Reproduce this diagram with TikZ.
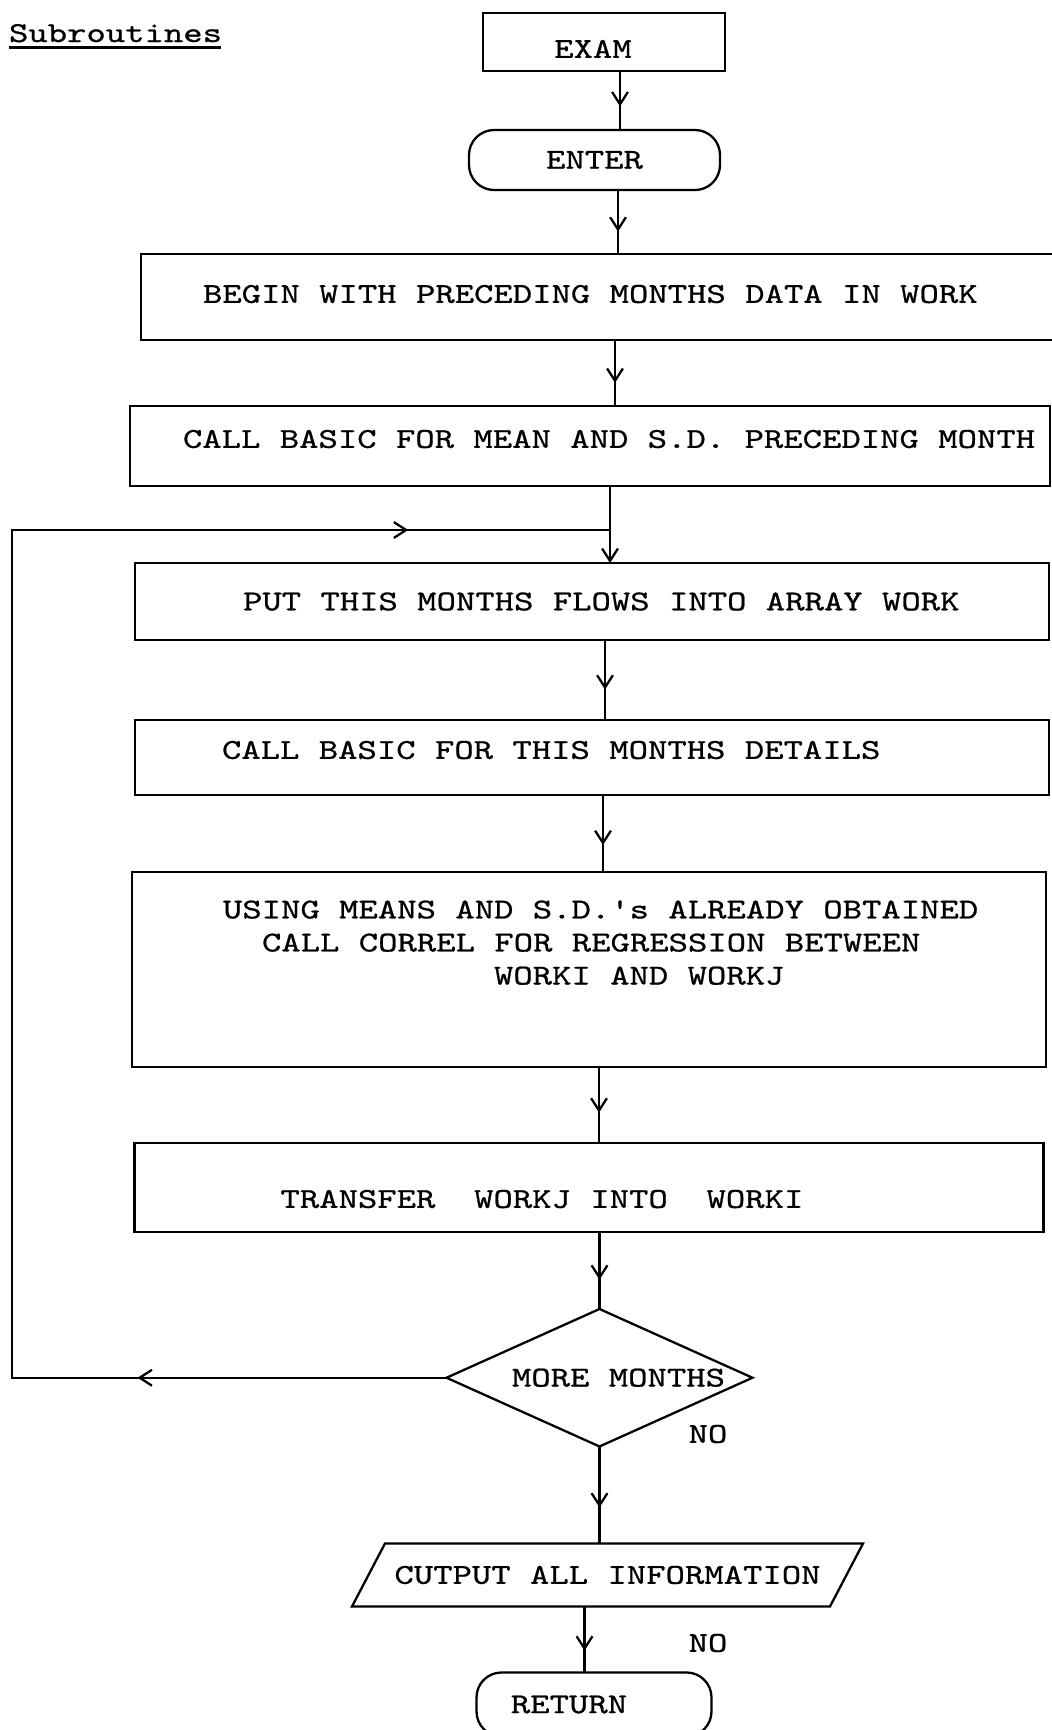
\documentclass[tikz,border=0pt]{standalone}
\usepackage{fontspec}
\newfontfamily\typer{lmmono10-regular}[Extension=.otf, FakeStretch=1.28, FakeBold=0.8, Ligatures=TeXOff]
\newcommand\typeface{\typer\fontsize{16.4pt}{18.8pt}\selectfont}
\newcommand\fixedspaces{\spaceskip=11.02pt\relax\xspaceskip=11.02pt\relax}
\usepackage{tikz}
\usetikzlibrary{arrows.meta,positioning,shapes.geometric,decorations.markings}

\begin{document}
\begin{tikzpicture}[
    every node/.style={outer sep=0pt, font=\typeface},
    line width=1.3pt,
    >={Straight Barb[length=7pt,width=9pt]},
    tbox/.style={
      rectangle, draw, inner xsep=0pt, align=left, text width=#1,
      execute at begin node=\fixedspaces
    },
    termbox/.style={
      rectangle, draw, rounded corners=0.5cm, align=center
    },
    decbox/.style={
      diamond, draw, aspect=2.2, inner sep=1pt,
      minimum width=6.12cm, minimum height=2.74cm
    },
    iobox/.style={
      rectangle, minimum width=9.56cm, minimum height=1.26cm
    },
    lift/.style={text height=#1, text depth=0pt},
    arr/.style={postaction={decorate},
      decoration={markings, mark=at position #1 with {\arrow{>}}}},
    arr/.default=0.65,
    looparr/.style={postaction={decorate},
      decoration={markings,
        mark=at position 6.18cm with {\arrow{>}},
        mark=at position 33.57cm with {\arrow{>}}}}
  ]
    \path[use as bounding box] (0,0) rectangle (21.04,-34.6);
    \clip (0,0) rectangle (21.04,-34.6);

    % Heading
    \node[anchor=base west, inner sep=0pt] (title) at (0.18,-0.84)
      {\rlap{Subroutines}\rule[-0.13cm]{4.24cm}{0.05cm}};

    % Entry
    \node[draw, minimum width=4.84cm, minimum height=1.16cm, lift=0.634cm] (exam) at (12.08,-0.84) {EXAM\hspace*{0.44cm}};
    \node[termbox, minimum width=5.02cm, minimum height=1.2cm, below=1.18cm of exam, xshift=-0.19cm] (enter) {ENTER};

    % Processing boxes
    \node[tbox=18.42cm, minimum height=1.72cm, lift=0.234cm, below=1.28cm of enter, xshift=0.14cm] (begin)
      {\hspace*{1.24cm}BEGIN WITH PRECEDING MONTHS DATA IN WORK};
    \node[tbox=18.4cm, minimum height=1.6cm, lift=0.074cm, below=1.32cm of begin, xshift=-0.23cm] (call)
      {\hspace*{1.06cm}CALL BASIC FOR MEAN AND S.D. PRECEDING MONTH};
    \node[tbox=18.28cm, minimum height=1.54cm, below=1.54cm of call, xshift=0.04cm] (put)
      {\hspace*{2.16cm}PUT THIS MONTHS FLOWS INTO ARRAY WORK};
    \node[tbox=18.28cm, minimum height=1.5cm, lift=0.054cm, below=1.6cm of put] (callthis)
      {\hspace*{1.74cm}CALL BASIC FOR THIS MONTHS DETAILS};
    \node[tbox=18.28cm, minimum height=3.9cm, below=1.54cm of callthis, xshift=-0.06cm] (using)
      {\hspace*{1.82cm}USING MEANS AND S.D.'s ALREADY OBTAINED\\
       \hspace*{2.6cm}CALL CORREL FOR REGRESSION BETWEEN\\
       \hspace*{7.24cm}WORKI AND WORKJ\\[0.42cm]
       \mbox{}};
    \node[tbox=18.18cm, minimum height=1.78cm, lift=0.814cm, below=1.52cm of using] (transfer)
      {\hspace*{2.92cm}TRANSFER\ \ WORKJ INTO\ \ WORKI};

    % Decision and exit
    \node[decbox, below=1.54cm of transfer, xshift=0.21cm] (more) {\hspace*{0.76cm}MORE MONTHS};
    \node[iobox, below=1.94cm of more, xshift=0.16cm] (output) {CUTPUT ALL INFORMATION};
    \draw ([xshift=0.33cm]output.north west) -- ([xshift=0.33cm]output.north east)
      -- ([xshift=-0.33cm]output.south east) -- ([xshift=-0.33cm]output.south west) -- cycle;
    \node[termbox, minimum width=4.7cm, minimum height=1.28cm, below=1.32cm of output, xshift=-0.27cm] (ret) {RETURN\hspace*{1.0cm}};

    \node (no1) at (14.16,-28.68) {NO};
    \node (no2) at (14.16,-32.86) {NO};

    % Connectors
    \draw[arr=0.6] ([xshift=0.32cm]exam.south) -- ([xshift=0.32cm]exam.south |- enter.north);
    \draw[arr] ([xshift=0.47cm]enter.south) -- ([xshift=0.47cm]enter.south |- begin.north);
    \draw[arr] ([xshift=0.27cm]begin.south) -- ([xshift=0.27cm]begin.south |- call.north);
    \draw[->] ([xshift=0.4cm]call.south) -- ([xshift=0.4cm]call.south |- put.north);
    \draw[arr=0.62] ([xshift=0.26cm]put.south) -- ([xshift=0.26cm]put.south |- callthis.north);
    \draw[arr] ([xshift=0.22cm]callthis.south) -- ([xshift=0.22cm]callthis.south |- using.north);
    \draw[arr=0.6] ([xshift=0.2cm]using.south) -- ([xshift=0.2cm]using.south |- transfer.north);
    \draw[arr=0.62] (transfer.south -| more.north) -- (more.north);
    \draw[arr=0.63] (more.south) -- (more.south |- output.north);
    \draw[arr=0.67] ([xshift=-0.46cm]output.south) -- ([xshift=-0.46cm]output.south |- ret.north);

    % Loop back
    \coordinate (lcorner) at (0.24,-10.6);
    \coordinate (join) at ([xshift=0.4cm]call.south |- lcorner);
    \draw[looparr] (more.west) -| (lcorner) -- (join);

  \end{tikzpicture}
\end{document}
